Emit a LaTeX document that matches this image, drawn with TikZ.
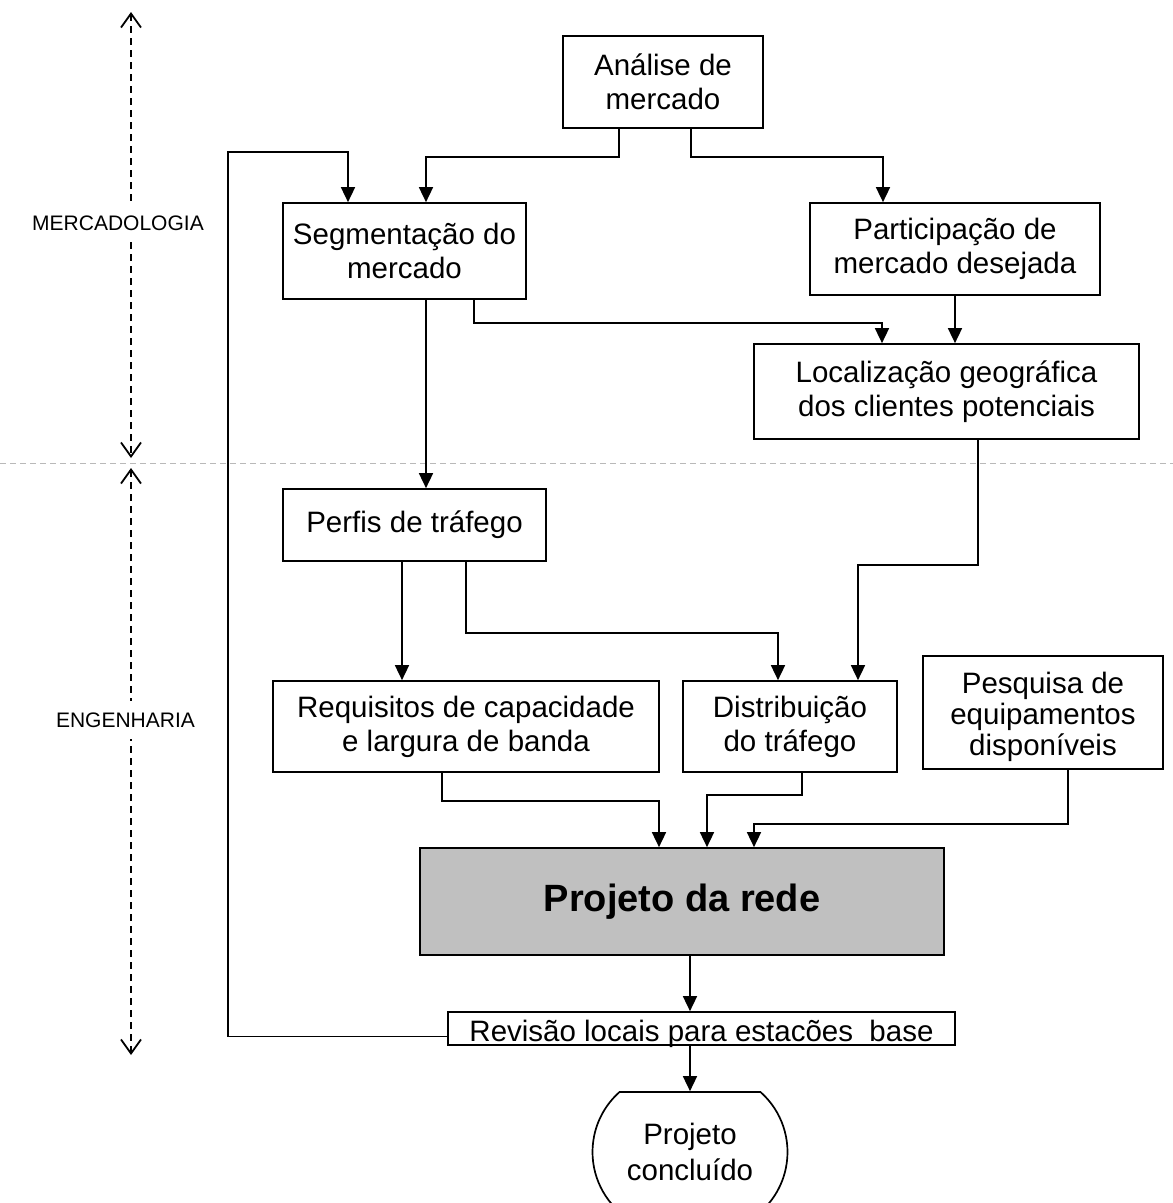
\documentclass[tikz,border=0pt]{standalone}
\usepackage{fontspec}
\setmainfont{Liberation Sans}
\usetikzlibrary{arrows.meta,shapes.misc}
\definecolor{projgray}{RGB}{192,192,192}
\begin{document}
\begin{tikzpicture}[x=1pt,y=-1pt,
  box/.style={draw=black, line width=1.7pt, inner sep=0pt, align=center, font=\fontsize{29.5}{34}\selectfont},
  arr/.style={line width=1.6pt, -{Triangle[length=15pt,width=14pt]}},
  vdash/.style={line width=1.8pt, dash pattern=on 7pt off 5pt, {Straight Barb[length=14pt,width=20pt]}-{Straight Barb[length=14pt,width=20pt]}},
  hdash/.style={draw=gray!55, line width=1pt, dash pattern=on 6pt off 4pt},
  lbl/.style={fill=white, inner xsep=2pt, inner ysep=12pt, font=\fontsize{21}{24}\selectfont}]
\useasboundingbox (0,0) rectangle (1173,1203);
\begin{scope}
\clip (0,0) rectangle (1173,1203);
% left scale
\coordinate (m1) at (131,12); \coordinate (m2) at (131,458);
\coordinate (e1) at (131,468); \coordinate (e2) at (131,1055);
\draw[vdash] (m1) -- (m2);
\draw[vdash] (e1) -- (e2);
\coordinate (h1) at (0,463); \coordinate (h2) at (1173,463);
\draw[hdash] (h1) -- (h2);
\node[lbl] (mlab) at (118,223) {MERCADOLOGIA};
\node[lbl] (elab) at (125.5,720) {ENGENHARIA};
% boxes
\node[box, minimum width=200pt, minimum height=92pt] (ana) at (663,82) {Análise de\\mercado};
\node[box, minimum width=243pt, minimum height=96pt] (seg) at (404.5,251) {Segmentação do\\mercado};
\node[box, minimum width=290pt, minimum height=92pt] (part) at (955,249) {Participação de\\mercado desejada};
\node[box, minimum width=385pt, minimum height=95pt] (loc) at (946.5,391.5) {Localização geográfica\\dos clientes potenciais};
\node[box, minimum width=263pt, minimum height=72pt] (perf) at (414.5,525) {Perfis de tráfego};
\node[box, minimum width=386pt, minimum height=91pt] (req) at (466,726.5) {Requisitos de capacidade\\e largura de banda};
\node[box, minimum width=214pt, minimum height=91pt] (dist) at (790,726.5) {Distribuição\\do tráfego};
\node[box, minimum width=240pt, minimum height=113pt, font=\fontsize{29.5}{30.5}\selectfont] (pesq) at (1043,712.5) {\raisebox{-6pt}[\height][\depth]{\begin{tabular}{@{}c@{}}Pesquisa de\\equipamentos\\disponíveis\end{tabular}}};
\node[box, fill=projgray, minimum width=524pt, minimum height=107pt, font=\bfseries\fontsize{38}{44}\selectfont] (proj) at (682,901.5) {Projeto da rede};
\node[box, minimum width=507pt, minimum height=33pt, text height=25pt, text depth=0pt, inner ysep=4pt] (rev) at (701.5,1028.5) {Revisão locais para estacões~ base};
\node[box, rounded rectangle, rounded rectangle arc length=97, minimum width=195pt, minimum height=120pt, font=\fontsize{29.5}{36}\selectfont] (conc) at (690,1152) {Projeto\\concluído};
% connectors
\draw[arr] ([xshift=-44pt]ana.south) -- ++(0,28) -| ([xshift=21.5pt]seg.north);
\draw[arr] ([xshift=28pt]ana.south) -- ++(0,28) -| ([xshift=-72pt]part.north);
\coordinate (fb) at (228,152);
\draw[arr] ([yshift=-8pt]rev.west) -| (fb) -| ([xshift=-56.5pt]seg.north);
\draw[arr] ([xshift=69.5pt]seg.south) -- ++(0,23) -| ([xshift=-64.5pt]loc.north);
\draw[arr] (part.south) -- (part.south |- loc.north);
\draw[arr] ([xshift=21.5pt]seg.south) -- ([xshift=21.5pt]seg.south |- perf.north);
\draw[arr] ([xshift=31.5pt]loc.south) -- ++(0,125) -| ([xshift=68pt]dist.north);
\draw[arr] ([xshift=-12.5pt]perf.south) -- ([xshift=-12.5pt]perf.south |- req.north);
\draw[arr] ([xshift=51.5pt]perf.south) -- ++(0,71) -| ([xshift=-12pt]dist.north);
\draw[arr] ([xshift=-24pt]req.south) -- ++(0,28) -| ([xshift=-23pt]proj.north);
\draw[arr] ([xshift=12pt]dist.south) -- ++(0,22) -| ([xshift=25pt]proj.north);
\draw[arr] ([xshift=25pt]pesq.south) -- ++(0,54) -| ([xshift=72pt]proj.north);
\draw[arr] (proj.south -| conc.north) -- (rev.north -| conc.north);
\draw[arr] (rev.south -| conc.north) -- (conc.north);
\end{scope}
\end{tikzpicture}
\end{document}
